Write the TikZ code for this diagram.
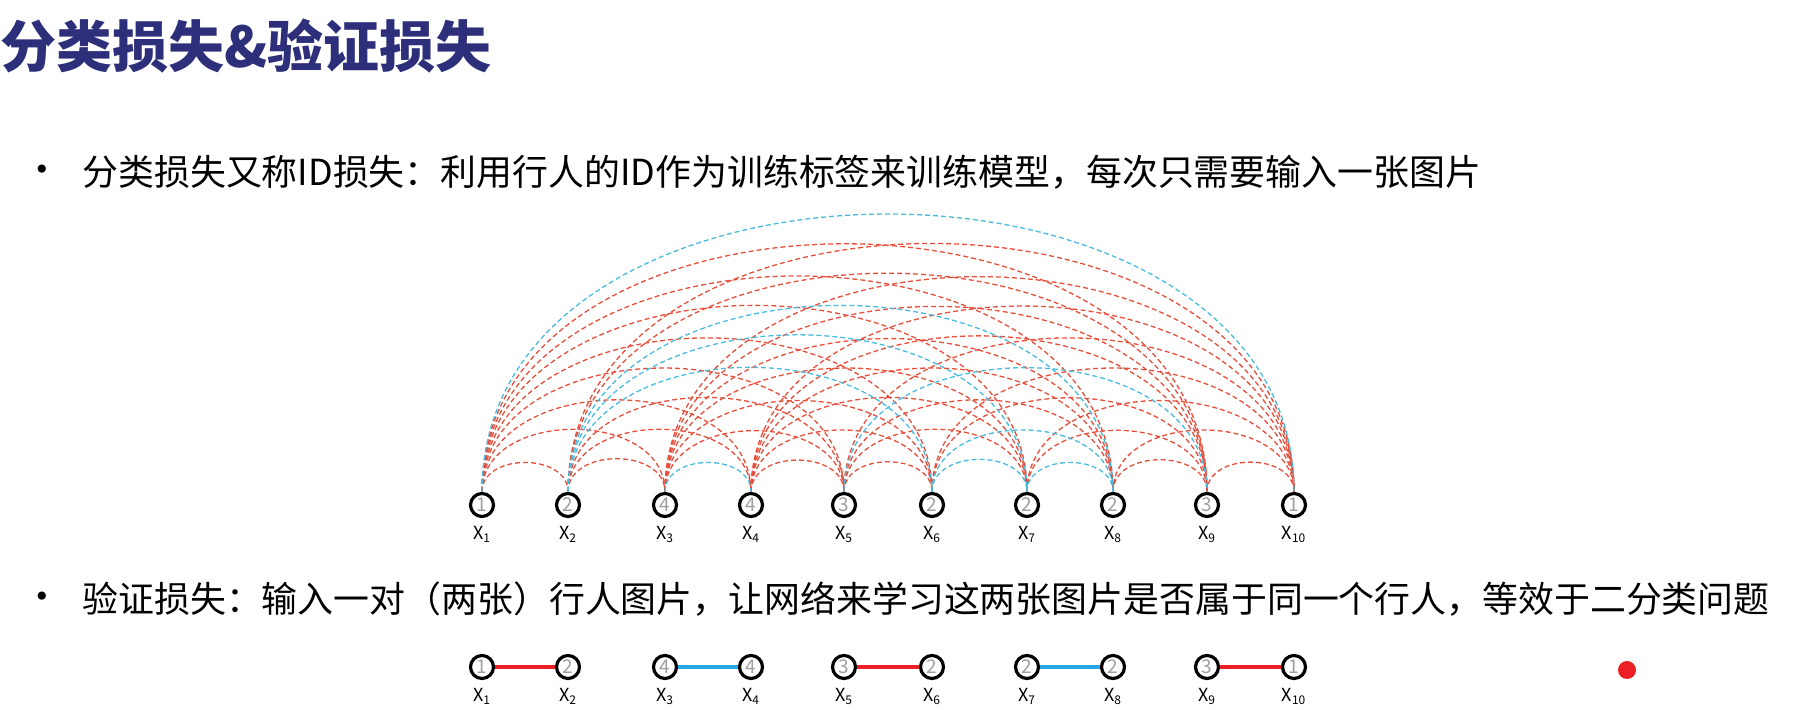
\documentclass[tikz,border=0pt]{standalone}
\usepackage{fontspec}
\setmainfont{Noto Sans CJK SC}
\newfontfamily\symfont{DejaVu Sans}
\usepackage{tikz}

\definecolor{titleblue}{RGB}{45,47,122}
\definecolor{arcred}{RGB}{232,78,60}
\definecolor{arcblue}{RGB}{72,188,222}
\definecolor{pairred}{RGB}{236,32,36}
\definecolor{pairblue}{RGB}{36,168,232}
\definecolor{idgray}{RGB}{160,160,160}

\begin{document}
\begin{tikzpicture}[
    x=0.5pt, y=0.5pt,
    idnode/.style={circle, draw=black, line width=1.6pt, minimum size=11.5pt, inner sep=0pt, fill=white, text=idgray, font=\fontsize{9.5}{9.5}\selectfont},
    xlab/.style={font=\fontsize{9}{9}\selectfont, inner sep=0pt, label distance=4pt},
    body/.style={anchor=west, inner sep=0pt, font=\fontsize{17.95}{20}\selectfont},
    bullet/.style={inner sep=0pt, font=\symfont\fontsize{14}{14}\selectfont},
    negarc/.style={arcred, dash pattern=on 2.5pt off 1.5pt, line width=0.65pt, out=90, in=90, looseness=1.17},
    posarc/.style={negarc, arcblue},
    negpair/.style={pairred, line width=2pt},
    pospair/.style={pairblue, line width=2pt}
]
\useasboundingbox (0,0) rectangle (1793,710);

% TITLE
\node[anchor=west, inner sep=0pt, text=titleblue, font=\bfseries\fontsize{28}{30}\selectfont] (title) at (0,664) {分类损失\&验证损失};

% CLASSIFICATION LOSS
\node[bullet] (bul1) at (42,538) {•};
\node[body] (cls) at (82,538) {分类损失又称ID损失：利用行人的ID作为训练标签来训练模型，每次只需要输入一张图片};

% Samples with their IDs
\node[idnode, label={[xlab]below:X\textsubscript{1}}] (x1) at (482,205) {1};
\node[idnode, label={[xlab]below:X\textsubscript{2}}] (x2) at (568,205) {2};
\node[idnode, label={[xlab]below:X\textsubscript{3}}] (x3) at (665,205) {4};
\node[idnode, label={[xlab]below:X\textsubscript{4}}] (x4) at (751,205) {4};
\node[idnode, label={[xlab]below:X\textsubscript{5}}] (x5) at (844,205) {3};
\node[idnode, label={[xlab]below:X\textsubscript{6}}] (x6) at (932,205) {2};
\node[idnode, label={[xlab]below:X\textsubscript{7}}] (x7) at (1027,205) {2};
\node[idnode, label={[xlab]below:X\textsubscript{8}}] (x8) at (1113,205) {2};
\node[idnode, label={[xlab]below:X\textsubscript{9}}] (x9) at (1207,205) {3};
\node[idnode, label={[xlab]below:X\textsubscript{10}}] (x10) at (1294,205) {1};

% Arcs between samples of different IDs
\def\ids{{1,2,4,4,3,2,2,2,3,1}}
\foreach \i in {1,...,9}{
  \pgfmathtruncatemacro{\nxt}{\i+1}
  \foreach \j in {\nxt,...,10}{
    \pgfmathtruncatemacro{\same}{\ids[\i-1]==\ids[\j-1]}
    \ifnum\same=0 \draw[negarc] (x\i) to (x\j);\fi
  }
}
% Arcs between samples of the same ID
\foreach \ii/\jj in {1/10,2/6,2/7,2/8,3/4,5/9,6/7,6/8,7/8}
  \draw[posarc] (x\ii) to (x\jj);

% VERIFICATION LOSS
\node[bullet] (bul2) at (42,111) {•};
\node[body] (ver) at (82,111) {验证损失：输入一对（两张）行人图片，让网络来学习这两张图片是否属于同一个行人，等效于二分类问题};

% Pairs
\node[idnode, label={[xlab]below:X\textsubscript{1}}] (v1) at (482,43) {1};
\node[idnode, label={[xlab]below:X\textsubscript{2}}] (v2) at (568,43) {2};
\node[idnode, label={[xlab]below:X\textsubscript{3}}] (v3) at (665,43) {4};
\node[idnode, label={[xlab]below:X\textsubscript{4}}] (v4) at (751,43) {4};
\node[idnode, label={[xlab]below:X\textsubscript{5}}] (v5) at (844,43) {3};
\node[idnode, label={[xlab]below:X\textsubscript{6}}] (v6) at (932,43) {2};
\node[idnode, label={[xlab]below:X\textsubscript{7}}] (v7) at (1027,43) {2};
\node[idnode, label={[xlab]below:X\textsubscript{8}}] (v8) at (1113,43) {2};
\node[idnode, label={[xlab]below:X\textsubscript{9}}] (v9) at (1207,43) {3};
\node[idnode, label={[xlab]below:X\textsubscript{10}}] (v10) at (1294,43) {1};

\draw[negpair] (v1) -- (v2);
\draw[pospair] (v3) -- (v4);
\draw[negpair] (v5) -- (v6);
\draw[pospair] (v7) -- (v8);
\draw[negpair] (v9) -- (v10);

\node[circle, fill=pairred, minimum size=9pt, inner sep=0pt] (dot) at (1627,40) {};

\end{tikzpicture}
\end{document}
